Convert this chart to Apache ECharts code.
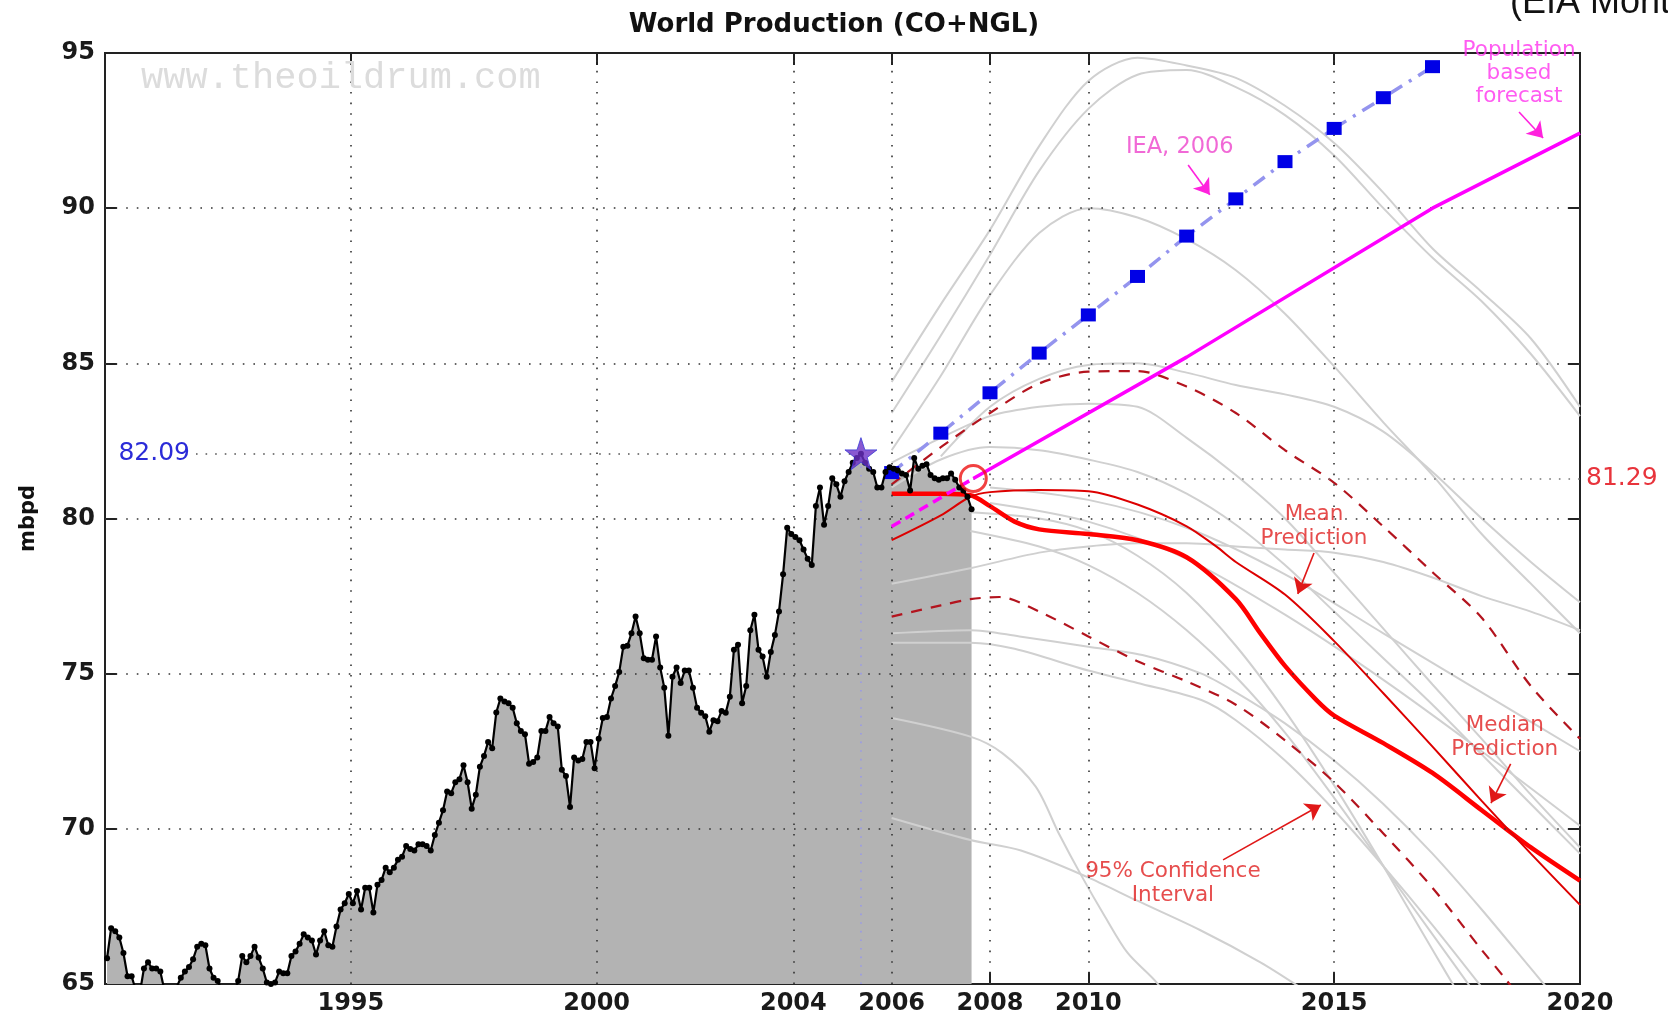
<!DOCTYPE html>
<html><head><meta charset="utf-8">
<script src="https://cdn.jsdelivr.net/npm/echarts@6/dist/echarts.min.js"></script>
<style>html,body{margin:0;padding:0;background:#fff}#c{width:1668px;height:1020px}</style>
</head><body><div id="c"></div>
<script>
// ---------------- DATA ----------------
const startYear = 1990;
// monthly world production (CO+NGL), mbpd, Jan 1990 .. Aug 2007
const monthlyProduction = [
  65.83, 66.8, 66.7, 66.5, 66.0, 65.25, 65.25, 64.8, 64.7, 65.5, 65.7, 65.5,
  65.5, 65.4, 64.8, 64.5, 64.6, 64.9, 65.2, 65.4, 65.55, 65.8, 66.2, 66.3,
  66.25, 65.5, 65.2, 65.1, 64.8, 64.6, 64.5, 64.7, 65.1, 65.9, 65.7, 65.9,
  66.2, 65.85, 65.5, 65.05, 65.0, 65.05, 65.4, 65.35, 65.35, 65.9, 66.05, 66.3,
  66.6, 66.5, 66.4, 65.95, 66.4, 66.7, 66.25, 66.2, 66.85, 67.4, 67.6, 67.9,
  67.6, 68.0, 67.4, 68.1, 68.1, 67.3, 68.2, 68.35, 68.75, 68.6, 68.75, 69.0,
  69.1, 69.45, 69.35, 69.3, 69.5, 69.5, 69.45, 69.3, 69.8, 70.2, 70.6, 71.2,
  71.15, 71.5, 71.6, 72.05, 71.5, 70.65, 71.1, 72.0, 72.35, 72.8, 72.6, 73.75,
  74.2, 74.1, 74.05, 73.9, 73.4, 73.15, 73.05, 72.1, 72.15, 72.3, 73.15, 73.15,
  73.6, 73.4, 73.3, 71.9, 71.7, 70.7, 72.3, 72.2, 72.25, 72.8, 72.8, 71.95,
  72.9, 73.57, 73.6, 74.2, 74.6, 75.05, 75.87, 75.9, 76.3, 76.84, 76.3, 75.5,
  75.45, 75.45, 76.2, 75.2, 74.55, 73.0, 74.9, 75.2, 74.7, 75.1, 75.1, 74.55,
  73.9, 73.74, 73.63, 73.13, 73.5, 73.47, 73.8, 73.74, 74.26, 75.77, 75.93, 74.05,
  74.6, 76.4, 76.9, 75.77, 75.55, 74.9, 75.7, 76.25, 77.0, 78.2, 79.7, 79.5,
  79.4, 79.3, 79.0, 78.7, 78.5, 80.4, 81.0, 79.8, 80.4, 81.3, 81.1, 80.7,
  81.2, 81.5, 81.8, 81.95, 82.09, 81.8, 81.6, 81.5, 81.0, 81.0, 81.5, 81.65,
  81.6, 81.55, 81.45, 81.4, 80.9, 81.95, 81.6, 81.7, 81.75, 81.4, 81.3, 81.25,
  81.3, 81.3, 81.45, 81.25, 81.0, 80.9, 80.7, 80.3
];
const xTickYears = [1995, 2000, 2004, 2006, 2008, 2010, 2015, 2020];
const xGridYears = [1995, 2000, 2004, 2006, 2008, 2010, 2015];
const yGridValues = [70, 75, 80, 85, 90];

const ieaYears  = [2006, 2007, 2008, 2009, 2010, 2011, 2012, 2013, 2014, 2015, 2016, 2017];
const ieaValues = [81.48, 82.75, 84.05, 85.33, 86.56, 87.8, 89.1, 90.3, 91.5, 92.57, 93.56, 94.56];

const populationDashed = [[2006, 79.74], [2007.66, 81.29]];
const populationSolid  = [[2007.66, 81.29], [2012, 85.2], [2017, 90.0], [2020, 92.42]];

const meanPrediction = [[2006, 79.3], [2007, 80.1], [2007.6, 80.7], [2008, 80.85], [2009, 80.92], [2010, 80.88],
  [2011, 80.45], [2012, 79.75], [2012.6, 79.1], [2013, 78.6], [2014, 77.55], [2015, 76.05], [2016, 74.37],
  [2017, 72.65], [2018, 70.9], [2019, 69.2], [2020, 67.55]];
const medianPrediction = [[2006, 80.8], [2007, 80.8], [2007.6, 80.75], [2008, 80.4], [2008.5, 79.9], [2009, 79.65],
  [2010, 79.5], [2011, 79.3], [2012, 78.75], [2013, 77.4], [2013.5, 76.3], [2014, 75.25], [2014.64, 74.15],
  [2015, 73.65], [2016, 72.76], [2017, 71.8], [2018, 70.6], [2019, 69.4], [2020, 68.33]];
const ciUpper = [[2006, 81.1], [2007, 82.3], [2008, 83.4], [2009, 84.35], [2010, 84.73], [2011, 84.75], [2012, 84.25],
  [2013, 83.4], [2014, 82.2], [2015, 81.15], [2016, 79.74], [2017, 78.27], [2018, 76.8], [2019, 74.6], [2020, 72.9]];
const ciLower = [[2006, 76.84], [2007, 77.2], [2007.6, 77.4], [2008.2, 77.47], [2009, 77.0], [2010, 76.2], [2011, 75.4],
  [2012, 74.75], [2013, 74.0], [2014, 72.85], [2015, 71.5], [2016, 69.85], [2017, 68.1], [2018, 66.1], [2018.5, 65.13], [2019, 64.1]];

const ensembleRuns = [
  [[2006, 84.4], [2007, 86.9], [2008, 89.3], [2009, 92.0], [2010, 94.1], [2011, 94.85], [2012, 94.6], [2013, 94.2], [2014, 93.3], [2015, 92.1], [2016, 90.5], [2017, 88.7], [2018, 87.3], [2019, 85.8], [2020, 83.6]],
  [[2006, 83.4], [2007, 85.9], [2008, 88.5], [2009, 91.2], [2010, 93.2], [2011, 94.3], [2012, 94.45], [2013, 93.9], [2014, 93.0], [2015, 91.7], [2016, 90.0], [2017, 88.4], [2018, 87.0], [2019, 85.3], [2020, 83.3]],
  [[2006, 82.2], [2007, 84.6], [2008, 87.2], [2009, 89.2], [2010, 90.0], [2011, 89.7], [2012, 89.0], [2013, 88.0], [2014, 86.6], [2015, 84.9], [2016, 83.1], [2017, 81.4], [2018, 79.5], [2019, 77.9], [2020, 76.3]],
  [[2007, 82.0], [2008, 83.6], [2009, 84.5], [2010, 84.95], [2011, 85.0], [2012, 84.7], [2013, 84.3], [2014, 84.0], [2015, 83.6], [2016, 82.8], [2017, 81.5], [2018, 80.0], [2019, 78.6], [2020, 77.3]],
  [[2006, 81.8], [2007, 82.6], [2008, 83.3], [2009, 83.6], [2010, 83.7], [2011, 83.6], [2012, 82.6], [2013, 81.4], [2014, 80.0], [2015, 78.25], [2016, 76.45], [2017, 74.65], [2018, 72.9], [2019, 71.1], [2020, 69.4]],
  [[2006, 77.9], [2007.6, 78.4], [2009, 78.9], [2010, 79.1], [2011, 79.2], [2012, 79.2], [2013, 79.1], [2014, 79.0], [2015, 78.9], [2016, 78.6], [2017, 78.1], [2018, 77.5], [2019, 77.0], [2020, 76.4]],
  [[2006, 81.0], [2007, 81.9], [2008, 82.3], [2009, 82.2], [2010, 81.9], [2011, 81.5], [2012, 80.8], [2013, 79.8], [2014, 78.5], [2015, 77.0], [2016, 75.5], [2017, 74.0], [2018, 72.4], [2019, 70.8], [2020, 69.2]],
  [[2006, 76.3], [2007.6, 76.4], [2008.6, 76.2], [2010, 75.87], [2011.1, 75.6], [2012.3, 75.0], [2013, 74.4], [2014, 73.4], [2015, 72.2], [2016, 70.8], [2017, 69.2], [2018, 67.4], [2019, 65.5], [2020, 63.6]],
  [[2006, 76.0], [2007.6, 76.0], [2008.5, 75.8], [2010, 75.1], [2011, 74.7], [2012.3, 74.15], [2013, 73.5], [2014, 72.2], [2015, 70.6], [2016, 68.8], [2017, 66.9], [2018, 64.9]],
  [[2006, 73.57], [2007.6, 72.97], [2008.25, 72.44], [2008.93, 71.36], [2009.4, 69.85], [2009.87, 68.46], [2010.34, 67.17], [2010.8, 66.0], [2011.36, 65.1], [2011.8, 64.2]],
  [[2006, 70.35], [2007.6, 69.64], [2008.63, 69.3], [2009.96, 68.46], [2010.97, 67.7], [2012.27, 66.74], [2013.5, 65.7], [2014.3, 64.9]],
  [[2007.6, 80.2], [2009, 80.0], [2010, 79.6], [2011, 78.8], [2012, 77.6], [2013, 75.9], [2014, 73.8], [2015, 71.4], [2016, 68.8], [2017, 66.1], [2017.6, 64.5]],
  [[2007.6, 79.6], [2009, 79.1], [2010, 78.5], [2011, 77.6], [2012, 76.4], [2013, 74.9], [2014, 73.1], [2015, 71.0], [2016, 68.8], [2017, 66.6], [2018, 64.4]],
  [[2008, 81.0], [2010, 80.6], [2012, 79.7], [2014, 78.2], [2016, 76.3], [2018, 74.4], [2020, 72.5]],
  [[2008, 80.5], [2010, 79.9], [2012, 78.7], [2014, 76.9], [2016, 74.8], [2018, 72.5], [2020, 70.1]]
];

const lastObserved = [2007.66, 81.29];
const annotationTexts = ['IEA, 2006', 'Population\nbased\nforecast', 'Mean\nPrediction', 'Median\nPrediction', '95% Confidence\nInterval'];

// ---------------- BUILD ----------------
const histData = monthlyProduction.map((v, i) => [startYear + (i + 0.5) / 12, v]);
let peakIdx = 0;
monthlyProduction.forEach((v, i) => { if (v > monthlyProduction[peakIdx]) peakIdx = i; });
const peakPoint = histData[peakIdx];
const ieaData = ieaYears.map((y, i) => [y, ieaValues[i]]);

const FONT = 'DejaVu Sans';
const STAR = 'path://M50,0 L61.8,35.1 L98.1,35.1 L68.8,56.8 L79.4,91.6 L50,70.4 L20.6,91.6 L31.2,56.8 L1.9,35.1 L38.2,35.1 Z';

const series = [];
// gray area under history
series.push({
  type: 'line', data: histData, symbol: 'none', silent: true, z: 1,
  lineStyle: { width: 0 }, areaStyle: { color: '#b3b3b3', opacity: 1, origin: 'start' }
});
// ensemble runs
ensembleRuns.forEach(run => series.push({
  type: 'line', data: run, symbol: 'none', smooth: 0.3, silent: true, z: 2,
  lineStyle: { color: '#d0d0d0', width: 2 }
}));
// grid lines (drawn above fill)
series.push({
  type: 'line', data: [], z: 3, silent: true,
  markLine: {
    silent: true, symbol: 'none', animation: false, label: { show: false },
    lineStyle: { color: '#333', type: [1.6, 9], width: 1.6 },
    data: xGridYears.map(x => ({ xAxis: x })).concat(yGridValues.map(y => ({ yAxis: y })))
  }
});
// confidence intervals
[ciUpper, ciLower].forEach(d => series.push({
  type: 'line', data: d, symbol: 'none', smooth: 0.3, silent: true, z: 4,
  lineStyle: { color: '#b3141e', width: 2.2, type: [11, 9] }
}));
series.push({ type: 'line', data: medianPrediction, symbol: 'none', smooth: 0.3, z: 4, lineStyle: { color: '#ff0000', width: 4.5 } });
series.push({ type: 'line', data: meanPrediction, symbol: 'none', smooth: 0.3, z: 4, lineStyle: { color: '#dd0000', width: 2 } });
// population based forecast
series.push({ type: 'line', data: populationDashed, symbol: 'none', z: 5, lineStyle: { color: '#ff00ff', width: 3.5, type: [10, 6] } });
series.push({ type: 'line', data: populationSolid, symbol: 'none', z: 5, lineStyle: { color: '#ff00ff', width: 3.5 } });
// IEA 2006
series.push({
  type: 'line', data: ieaData, z: 5, symbol: 'rect', symbolSize: [15, 13], showAllSymbol: true,
  itemStyle: { color: '#0000e6' }, lineStyle: { color: '#9494ee', width: 3.5, type: [14, 8, 3, 8] }
});
// history line with dots
series.push({
  type: 'line', data: histData, z: 6, symbol: 'circle', symbolSize: 6, showAllSymbol: true,
  itemStyle: { color: '#000' }, lineStyle: { color: '#000', width: 2.2 }
});
// reference lines
series.push({
  type: 'line', data: [], z: 6, silent: true,
  markLine: {
    silent: true, symbol: 'none', animation: false,
    data: [
      [{ coord: [1991.85, peakPoint[1]], lineStyle: { color: '#555', type: [1.6, 8], width: 1.6 },
         label: { show: true, position: 'start', formatter: '82.09', color: '#2b2bd8', fontSize: 25, fontFamily: FONT, distance: 6 } },
       { coord: [peakPoint[0], peakPoint[1]] }],
      [{ coord: [peakPoint[0], 65], lineStyle: { color: '#9a9ae6', type: [1.6, 7], width: 1.6 }, label: { show: false } },
       { coord: [peakPoint[0], peakPoint[1]] }],
      [{ coord: lastObserved, lineStyle: { color: '#777', type: [1.6, 8], width: 1.6 },
         label: { show: true, position: 'end', formatter: '81.29', color: '#e8343c', fontSize: 25, fontFamily: FONT, distance: 6 } },
       { coord: [2020, lastObserved[1]] }]
    ]
  }
});
// star & circle
series.push({ type: 'scatter', data: [peakPoint], z: 7, symbol: STAR, symbolSize: 32,
  itemStyle: { color: '#6b2fc6', borderColor: '#3a3ad6', borderWidth: 1 } });
series.push({ type: 'scatter', data: [lastObserved], z: 7, symbol: 'circle', symbolSize: 26,
  itemStyle: { color: 'rgba(0,0,0,0)', borderColor: '#ee1111', borderWidth: 3 } });
// annotation arrows
const arrowStyle = c => ({ color: c, width: 1.6, type: 'solid' });
series.push({
  type: 'line', data: [], z: 8, silent: true,
  markLine: {
    silent: true, symbol: ['none', 'arrow'], symbolSize: 15, animation: false, label: { show: false },
    data: [
      [{ coord: [2012.03, 91.39], lineStyle: arrowStyle('#ff22dd') }, { coord: [2012.47, 90.43] }],
      [{ coord: [2018.76, 93.1], lineStyle: arrowStyle('#ff22dd') }, { coord: [2019.25, 92.26] }],
      [{ coord: [2014.59, 78.89], lineStyle: arrowStyle('#e01818') }, { coord: [2014.26, 77.57] }],
      [{ coord: [2018.59, 72.09], lineStyle: arrowStyle('#e01818') }, { coord: [2018.19, 70.83] }],
      [{ coord: [2012.74, 69.0], lineStyle: arrowStyle('#e01818') }, { coord: [2014.73, 70.77] }]
    ]
  }
});
// annotation texts
const annoLabel = (c) => ({ show: true, position: 'inside', color: c, fontSize: 21.5, fontFamily: FONT, lineHeight: 24, align: 'center' });
series.push({
  type: 'scatter', z: 9, symbolSize: 1, silent: true, itemStyle: { color: 'rgba(0,0,0,0)' },
  data: [
    { value: [2011.86, 91.97], label: Object.assign(annoLabel('#ee44cc'), { formatter: annotationTexts[0], fontSize: 22.5 }) },
    { value: [2018.76, 94.33], label: Object.assign(annoLabel('#ff33ee'), { formatter: annotationTexts[1], lineHeight: 23 }) },
    { value: [2014.59, 79.76], label: Object.assign(annoLabel('#e02020'), { formatter: annotationTexts[2] }) },
    { value: [2018.47, 72.93], label: Object.assign(annoLabel('#e02020'), { formatter: annotationTexts[3] }) },
    { value: [2011.72, 68.23], label: Object.assign(annoLabel('#e02020'), { formatter: annotationTexts[4] }) }
  ]
});

const option = {
  animation: false,
  backgroundColor: '#fff',
  title: [
    { text: 'World Production (CO+NGL)', left: 'center', top: 7,
      textStyle: { fontFamily: FONT, fontSize: 26, fontWeight: 'bold', color: '#111' } },
    { text: '(EIA Monthly)', left: 1505, top: -20,
      textStyle: { fontFamily: 'Liberation Sans', fontSize: 36, fontWeight: 'normal', color: '#111' } },
    { text: 'www.theoildrum.com', left: 136, top: 55,
      textStyle: { fontFamily: 'Liberation Mono', fontSize: 37, fontWeight: 'normal', color: '#dcdcdc' } }
  ],
  grid: { left: 105, right: 88, top: 53, bottom: 36, show: true, borderColor: '#222', borderWidth: 2, backgroundColor: '#fff' },
  xAxis: [
    { type: 'value', min: 1990, max: 2020, position: 'bottom',
      axisLine: { show: true, lineStyle: { color: '#222', width: 2 } },
      axisTick: { show: true, inside: true, length: 12, customValues: xTickYears, lineStyle: { color: '#222', width: 2 } },
      axisLabel: { customValues: xTickYears, margin: 8, color: '#1a1a1a', fontSize: 24, fontFamily: FONT, fontWeight: 'bold', formatter: v => String(v) },
      splitLine: { show: false } },
    { type: 'value', min: 1990, max: 2020, position: 'top',
      axisLine: { show: false },
      axisTick: { show: true, inside: true, length: 12, customValues: xTickYears, lineStyle: { color: '#222', width: 2 } },
      axisLabel: { show: false }, splitLine: { show: false } }
  ],
  yAxis: [
    { type: 'value', min: 65, max: 95, interval: 5, position: 'left',
      name: 'mbpd', nameLocation: 'middle', nameGap: 66, nameRotate: 90,
      nameTextStyle: { fontFamily: FONT, fontSize: 21, fontWeight: 'bold', color: '#111' },
      axisLine: { show: true, lineStyle: { color: '#222', width: 2 } },
      axisTick: { show: true, inside: true, length: 12, lineStyle: { color: '#222', width: 2 } },
      axisLabel: { margin: 10, color: '#1a1a1a', fontSize: 24, fontFamily: FONT, fontWeight: 'bold' },
      splitLine: { show: false } },
    { type: 'value', min: 65, max: 95, interval: 5, position: 'right',
      axisLine: { show: false },
      axisTick: { show: true, inside: true, length: 12, lineStyle: { color: '#222', width: 2 } },
      axisLabel: { show: false }, splitLine: { show: false } }
  ],
  series: series
};

const chart = echarts.init(document.getElementById('c'), null, { renderer: 'canvas' });
chart.setOption(option);
</script>
</body></html>
